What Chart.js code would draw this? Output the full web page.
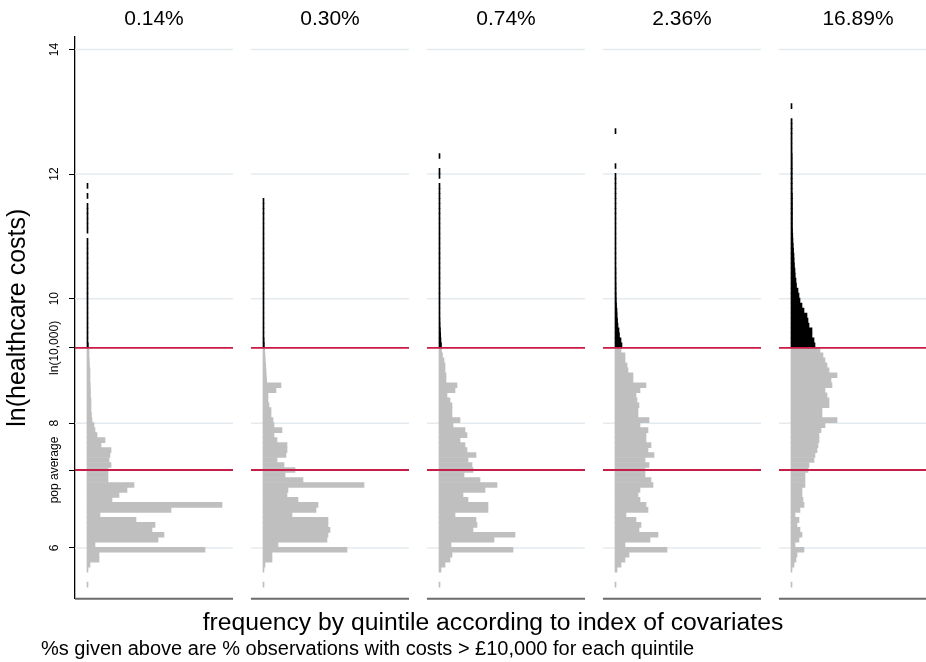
<!DOCTYPE html>
<html>
<head>
<meta charset="utf-8">
<script src="https://cdn.jsdelivr.net/npm/chart.js@4.4.1/dist/chart.umd.min.js"></script>
<style>
html,body{margin:0;padding:0;background:#fff;overflow:hidden}
#wrap{width:926px;height:662px;position:relative}
</style>
</head>
<body>
<div id="wrap"><canvas id="c"></canvas></div>
<script>
// ---------------- data ----------------
const PANEL_LABELS = ['0.14%', '0.30%', '0.74%', '2.36%', '16.89%'];
const Y_TICK_VALUES = [6, 7.25, 8, 9.2103, 10, 12, 14];
const Y_TICK_LABELS = ['6', 'pop average', '8', 'ln(10,000)', '10', '12', '14'];
const GRID_VALUES = [6, 8, 10, 12, 14];
const LN_10000 = 9.2103;
const POP_AVERAGE = 7.25;
const BIN_WIDTH = 0.08;
const X_TITLE = 'frequency by quintile according to index of covariates';
const Y_TITLE = 'ln(healthcare costs)';
const CAPTION = '%s given above are % observations with costs > £10,000 for each quintile';

// frequencies of bins below ln(10,000), listed from the top bin downward
const GREY_Q1 = [2,2,2.3,2.5,3,3,3,3.3,3.5,3.5, 4,4,4,4.5,5,7,8,10,18,14, 24,23,22,24,21,21,21,47,40,32, 25,135,84,13,49,68,65,77,71,8, 118,12,12,3,1,0,0,1];
const GREY_Q2 = [1.7,2,2.3,2.7,3,3.3,3.7,18,13,5, 5,6,8,8,10,11,19,11,14,24, 24,23,14,21,32,22,40,101,25,24, 35,55,53,29,65,65,67,65,64,15, 84,9,9,2,1,0,0,1];
const GREY_Q3 = [2.5,3.5,5,6,6,7,7,18,16,8, 11,13,13,13,21,14,26,28,21,26, 28,37,29,33,34,25,41,58,46,24, 29,49,49,16,37,38,34,76,55,12, 74,13,11,6,2,0,0,1];
const GREY_Q4 = [6,10,10,12,13,18,18,31,25,21, 22,24,23,23,34,25,33,31,31,36, 33,39,30,34,30,30,36,38,25,23, 25,31,33,11,21,26,24,43,35,10, 52,14,10,6,2,0,0,1];
const GREY_Q5 = [29,32,34,36,38,46,40,41,34,36, 38,38,31,31,46,34,30,28,28,27, 26,24,23,18,17,14,14,14,11,11, 12,13,9,4,8,6,9,11,8,4, 13,6,5,3,1,0,0,1];

// frequencies of bins above ln(10,000), listed from the bottom bin upward
const BLACK_Q1 = [1.4,1,1,1,1,1,1,1,1,1, 1,1,1,1,1,1,1,1,1,1, 1,1,0,1,1,1,1,1,1,0, 1,0,1];
const BLACK_Q2 = [1.4,1.2,1,1,1,1,1,1,1,1, 1,1,1,1,1,1,1,1,1,1, 1,1,1,1,1,1,1,1,1,1];
const BLACK_Q3 = [2.5,2,1.7,1.5,1.2,1.1,1,1,1,1, 1,1,1,1,1,1,1,1,1,1, 1,1,1,1,1,1,1,1,1,1, 1,1,1,0,1,1,0,0,1];
const BLACK_Q4 = [7,6,4.5,4,3,2.6,2.2,2,1.6,1.4, 1.3,1.2,1.2,1.1,1.1,1.1,1,1,1,1, 1,1,1,1,1,1,1,1,1,1, 1,1,1,1,1,0,1,0,0,0, 0,0,0,1];
const BLACK_Q5 = [24,23,21,21,18,17,16,13,11,9, 8,7,5.5,5,4.3,4,3.5,3.2,3,2.6, 2.3,2,1.8,1.6,1.5,1.5,1.5,1.5,1.5,1.5, 1.5,1.3,1.3,1.3,1.3,1.3,1.3,1.3,1.3,1.1, 1.1,1.1,1.1,1.1,1.1,1.1,0,0,1];

// ---------------- layout / style ----------------
const GREY_SERIES = [GREY_Q1, GREY_Q2, GREY_Q3, GREY_Q4, GREY_Q5];
const BLACK_SERIES = [BLACK_Q1, BLACK_Q2, BLACK_Q3, BLACK_Q4, BLACK_Q5];
const PANEL_STEP = 176, PANEL_LO = -12, PANEL_HI = 146, PANEL_LABEL_AT = 67;
const X_MIN = -12, X_MAX = 824;
const Y_MIN = 5.19, Y_MAX = 14.2;
const FONT = '"Liberation Sans", Arial, Helvetica, sans-serif';
const RED = '#c81d48';
const GREY = '#bfbfbf';
const TICK_LEN = 6;
const TICK_FONT_SIZE = 12;

Chart.defaults.font.family = FONT;
Chart.defaults.color = '#000';

// centre the rotated y tick labels
const mctx = document.createElement('canvas').getContext('2d');
mctx.font = TICK_FONT_SIZE + 'px ' + FONT;
const widestTick = Math.max(...Y_TICK_LABELS.map(t => mctx.measureText(t).width));
const Y_TICK_PAD = 75 - TICK_LEN - 55 - widestTick / 2;

function refLine(v) {
  const pts = [];
  PANEL_LABELS.forEach((_, k) => {
    pts.push({x: k * PANEL_STEP + PANEL_LO, y: v});
    pts.push({x: k * PANEL_STEP + PANEL_HI, y: v});
    pts.push({x: k * PANEL_STEP + PANEL_HI + 1, y: null});
  });
  return pts;
}

const datasets = [];
[LN_10000, POP_AVERAGE].forEach(v => datasets.push({
  type: 'line', data: refLine(v), borderColor: RED, borderWidth: 1.8,
  pointRadius: 0, pointHoverRadius: 0, spanGaps: false, fill: false, clip: false,
  order: 0, xAxisID: 'x', yAxisID: 'y'
}));
GREY_SERIES.forEach((vals, k) => datasets.push({
  type: 'bar', indexAxis: 'y', order: 1, grouped: false,
  barPercentage: 1, categoryPercentage: 1, backgroundColor: GREY, borderWidth: 0,
  xAxisID: 'x', yAxisID: 'y',
  data: vals.map((f, i) => f > 0 ? {y: LN_10000 - BIN_WIDTH * (i + 0.5), x: [k * PANEL_STEP, k * PANEL_STEP + f]} : null).filter(Boolean)
}));
BLACK_SERIES.forEach((vals, k) => datasets.push({
  type: 'bar', indexAxis: 'y', order: 1, grouped: false,
  barPercentage: 1, categoryPercentage: 1, backgroundColor: '#000', borderWidth: 0,
  xAxisID: 'x', yAxisID: 'y',
  data: vals.map((f, j) => f > 0 ? {y: LN_10000 + BIN_WIDTH * (j + 0.5), x: [k * PANEL_STEP, k * PANEL_STEP + f]} : null).filter(Boolean)
}));

const panelFrames = {
  id: 'panelFrames',
  beforeDatasetsDraw(chart) {
    const {ctx, chartArea, scales: {x, y}} = chart;
    ctx.save();
    PANEL_LABELS.forEach((_, k) => {
      const x0 = x.getPixelForValue(k * PANEL_STEP + PANEL_LO);
      const x1 = x.getPixelForValue(k * PANEL_STEP + PANEL_HI);
      ctx.strokeStyle = '#e3ebef';
      ctx.lineWidth = 1.5;
      GRID_VALUES.forEach(v => {
        const py = y.getPixelForValue(v);
        ctx.beginPath(); ctx.moveTo(x0, py); ctx.lineTo(x1, py); ctx.stroke();
      });
      ctx.strokeStyle = '#6b6b6b';
      ctx.lineWidth = 2.2;
      const by = chartArea.bottom + 0.4;
      ctx.beginPath(); ctx.moveTo(x0, by); ctx.lineTo(x1, by); ctx.stroke();
    });
    ctx.restore();
  }
};

new Chart(document.getElementById('c'), {
  type: 'bar',
  data: {datasets},
  plugins: [panelFrames],
  options: {
    responsive: true,
    maintainAspectRatio: false,
    animation: false,
    events: [],
    layout: {padding: {left: 41, right: 15, top: 0, bottom: 0}},
    plugins: {
      legend: {display: false},
      tooltip: {enabled: false},
      subtitle: {
        display: true, position: 'bottom', align: 'start', fullSize: true,
        text: CAPTION, color: '#000',
        font: {size: 20, family: FONT, weight: 'normal', lineHeight: 1},
        padding: {top: 1, bottom: 3}
      }
    },
    scales: {
      x: {
        type: 'linear', position: 'bottom', min: X_MIN, max: X_MAX, offset: false,
        grid: {display: false, drawTicks: false, offset: false},
        border: {display: false},
        ticks: {display: false},
        title: {display: true, text: X_TITLE, color: '#000', font: {size: 24.7, family: FONT}, padding: {top: 10, bottom: 0}}
      },
      xTop: {
        type: 'linear', position: 'top', min: X_MIN, max: X_MAX, offset: false,
        grid: {display: false, drawTicks: false, offset: false},
        border: {display: false},
        afterBuildTicks: s => { s.ticks = PANEL_LABELS.map((_, k) => ({value: k * PANEL_STEP + PANEL_LABEL_AT})); },
        afterFit: s => { s.height = 37; },
        ticks: {
          autoSkip: false, maxRotation: 0, minRotation: 0, padding: 5.2, color: '#000',
          font: {size: 21, family: FONT},
          callback: (v, i) => PANEL_LABELS[i]
        }
      },
      y: {
        type: 'linear', position: 'left', min: Y_MIN, max: Y_MAX, offset: false,
        grid: {display: true, drawOnChartArea: false, drawTicks: true, tickLength: TICK_LEN, color: '#000', lineWidth: 1, offset: false},
        border: {display: true, color: '#000', width: 1.3},
        afterBuildTicks: s => { s.ticks = Y_TICK_VALUES.map(v => ({value: v})); },
        afterFit: s => { s.width = 34; },
        ticks: {
          autoSkip: false, minRotation: 90, maxRotation: 90, crossAlign: 'center',
          padding: Y_TICK_PAD, color: '#000', font: {size: TICK_FONT_SIZE, family: FONT},
          callback: (v, i) => Y_TICK_LABELS[i]
        },
        title: {display: true, text: Y_TITLE, color: '#000', font: {size: 25, family: FONT}, padding: {top: -38, bottom: 0}}
      }
    }
  }
});
</script>
</body>
</html>
